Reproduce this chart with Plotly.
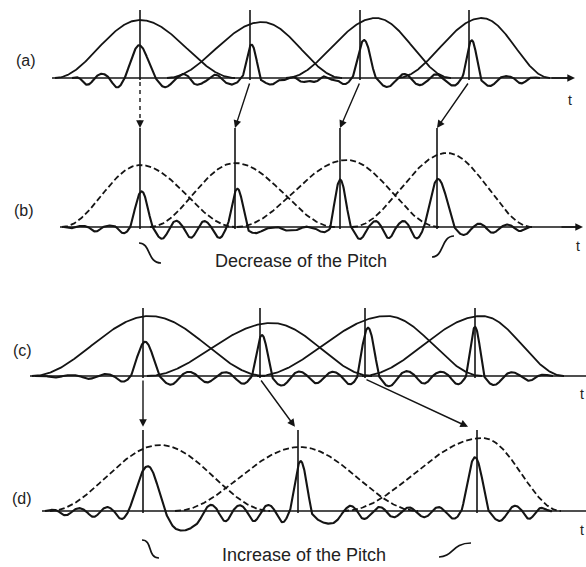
import numpy as np
import plotly.graph_objects as go

# ---------------- data (time axis in drawing units, amplitudes in drawing units) ----------------
# pitch marks of each panel
marks_a = [140, 250, 360, 469]
marks_b = [140, 235, 340, 437]
marks_c = [143, 260, 365, 475]
marks_d = [143, 298, 477]

# pulses: peak position, peak height, main-lobe half width
pulse_pos_a = [140, 252, 364, 472]
pulse_amp_a = [34, 38, 43, 40]
pulse_w_a = [15, 9, 11, 9]

pulse_pos_b = [141, 238, 340, 439]
pulse_amp_b = [37, 40, 50, 49]
pulse_w_b = [11, 10, 10, 15]

pulse_pos_c = [145, 262, 368, 475]
pulse_amp_c = [35, 40, 47, 48]
pulse_w_c = [14, 10, 11, 9]

pulse_pos_d = [147, 301, 475]
pulse_amp_d = [46, 49, 56]
pulse_w_d = [18, 11, 13]
trough_depth_d = [21, 14, 9]
trough_w_d = [38, 30, 20]

# analysis / synthesis windows: centre, height, left and right half-width
win_c_a = [140, 262, 376, 482]
win_h_a = [58, 56, 60, 60]
win_l_a = [85, 95, 90, 85]
win_r_a = [95, 80, 75, 68]

win_c_b = [140, 235, 347, 447]
win_h_b = [62, 64, 67, 74]
win_l_b = [78, 85, 110, 95]
win_r_b = [95, 100, 92, 85]

win_c_c = [150, 272, 387, 482]
win_h_c = [60, 53, 60, 60]
win_l_c = [118, 125, 130, 120]
win_r_c = [115, 100, 95, 82]

win_c_d = [160, 300, 483]
win_h_d = [66, 64, 73]
win_l_d = [110, 125, 140]
win_r_d = [110, 118, 78]

# extent of each signal
span_a = [72, 540]
span_b = [64, 532]
span_c = [35, 553]
span_d = [45, 552]

panel_labels = ["(a)", "(b)", "(c)", "(d)"]
axis_label = "t"
caption_b = "Decrease of the Pitch"
caption_d = "Increase of the Pitch"

# ---------------- layout constants ----------------
W_PX, H_PX = 586, 567
BASE = {"a": 78, "b": 227, "c": 376, "d": 511}
INK = "#141414"
FONT = "Liberation Sans, Arial, sans-serif"

fig = go.Figure()


def add_line(x, y, width=1.6, dash=None, color=INK):
    fig.add_trace(go.Scatter(x=x, y=y, mode="lines", hoverinfo="skip",
                             line=dict(color=color, width=width, dash=dash)))


def pulse_train(t, pos, amp, w, tdepth=None, twidth=None, r=5.5, h=15.0, D=90.0):
    s = np.zeros_like(t)
    n = len(pos)
    tdepth = tdepth if tdepth is not None else [1.6 * r] * n
    twidth = twidth if twidth is not None else [1.2 * h] * n
    for p, A, wk, td, tw in zip(pos, amp, w, tdepth, twidth):
        d = t - p
        ad = np.abs(d)
        u = ad / wk
        lobe = np.where(u < 1, A * np.sinc(u), 0.0)
        xl = ad - wk
        left = np.where((d < 0) & (xl > 0), -r * np.sin(np.pi * xl / h) * np.exp(-xl / D), 0.0)
        trough = np.where((d > 0) & (xl > 0) & (xl < tw), -td * np.sin(np.pi * np.clip(xl, 0, None) / tw), 0.0)
        xr = xl - tw
        right = np.where((d > 0) & (xr >= 0), r * np.sin(np.pi * xr / h) * np.exp(-np.clip(xr, 0, None) / D), 0.0)
        rip = left + right
        rip = np.where(rip < 0, 1.4 * rip, 0.8 * rip)
        s += lobe + trough + rip
    return s


def draw_signal(key, span, pos, amp, w, **kw):
    t = np.linspace(span[0], span[1], 1400)
    s = pulse_train(t, pos, amp, w, **kw)
    env = np.clip((t - span[0]) / 12, 0, 1) * np.clip((span[1] - t) / 12, 0, 1)
    add_line(t, -BASE[key] + s * env, width=2.1)


def draw_windows(key, cs, hs, ls, rs, dash=None):
    for c, h, wl, wr in zip(cs, hs, ls, rs):
        t = np.linspace(c - wl, c + wr, 300)
        ww = np.where(t < c, wl, wr)
        x = (t - c) / ww
        y = h * np.cos(np.pi * x / 2) ** 2
        add_line(t, -BASE[key] + y, width=1.8, dash=dash)


def draw_axis(key, x0, x1):
    add_line([x0, x1], [-BASE[key], -BASE[key]], width=1.3)


def draw_marks(key, marks, top, extra=2):
    for m in marks:
        add_line([m, m], [-top, -(BASE[key] + extra)], width=1.6)


# axes
draw_axis("a", 52, 572)
draw_axis("b", 60, 580)
draw_axis("c", 30, 586)
draw_axis("d", 42, 586)

# windows
draw_windows("a", win_c_a, win_h_a, win_l_a, win_r_a)
draw_windows("b", win_c_b, win_h_b, win_l_b, win_r_b, dash="6px,3px")
draw_windows("c", win_c_c, win_h_c, win_l_c, win_r_c)
draw_windows("d", win_c_d, win_h_d, win_l_d, win_r_d, dash="6px,3px")

# signals
draw_signal("a", span_a, pulse_pos_a, pulse_amp_a, pulse_w_a, r=6.0, h=15.0)
draw_signal("b", span_b, pulse_pos_b, pulse_amp_b, pulse_w_b, r=5.5, h=14.0)
draw_signal("c", span_c, pulse_pos_c, pulse_amp_c, pulse_w_c, r=5.0, h=17.0, D=50.0)
draw_signal("d", span_d, pulse_pos_d, pulse_amp_d, pulse_w_d,
            tdepth=trough_depth_d, twidth=trough_w_d, r=6.0, h=14.0)

# pitch-mark lines
draw_marks("a", marks_a, 10)
draw_marks("b", marks_b, 128)
draw_marks("c", marks_c, 308)
draw_marks("d", marks_d, 430)

annotations = []


def arrow(x0, y0, x1, y1):
    annotations.append(dict(x=x1, y=-y1, ax=x0, ay=-y0, xref="x", yref="y", axref="x", ayref="y",
                            text="", showarrow=True, arrowhead=2, arrowsize=1.1, arrowwidth=1.4,
                            arrowcolor=INK, standoff=0))


# arrows a -> b
for k, (ma, mb) in enumerate(zip(marks_a, marks_b)):
    y0, y1 = BASE["a"] + 4, 128
    if ma == mb:
        add_line([ma, mb], [-y0, -(y1 - 6)], width=1.4, dash="4px,4px")
        arrow(mb, y1 - 9, mb, y1)
    else:
        arrow(ma, y0, mb, y1)

# arrows c -> d
for mc, md in zip(marks_c[:len(marks_d)], marks_d):
    y0, yt = BASE["c"] + 3, 431
    f = 0.92
    arrow(mc, y0, mc + f * (md - mc), y0 + f * (yt - y0))

# axis arrow heads
arrow(550, BASE["a"], 575, BASE["a"])
arrow(560, BASE["b"], 583, BASE["b"])

# text
lab_pos = [(26, 60), (24, 210), (22, 350), (22, 498)]
for lab, (x, y) in zip(panel_labels, lab_pos):
    annotations.append(dict(x=x, y=-y, xref="x", yref="y", text=lab, showarrow=False,
                            font=dict(family=FONT, size=16, color="#222")))
for (x, y, anc) in [(570, 100, "center"), (578, 246, "center"), (586, 394, "right"), (586, 530, "right")]:
    annotations.append(dict(x=x, y=-y, xref="x", yref="y", text=axis_label, showarrow=False,
                            xanchor=anc, font=dict(family=FONT, size=14, color="#222")))
annotations.append(dict(x=301, y=-261, xref="x", yref="y", text=caption_b, showarrow=False,
                        font=dict(family=FONT, size=18, color="#222")))
annotations.append(dict(x=304, y=-555, xref="x", yref="y", text=caption_d, showarrow=False,
                        font=dict(family=FONT, size=18, color="#222")))

# small squiggles (decorations)
squiggles = [
    "M 139,-243 C 151,-243 147,-263 161,-263",
    "M 432,-257 C 444,-257 441,-236 454,-236",
    "M 142,-540 C 153,-540 147,-558 159,-558",
    "M 439,-557 C 453,-557 452,-543 471,-543",
]
shapes = [dict(type="path", path=p, xref="x", yref="y", line=dict(color=INK, width=1.7)) for p in squiggles]

fig.update_layout(
    width=W_PX, height=H_PX, margin=dict(l=0, r=0, t=0, b=0),
    paper_bgcolor="white", plot_bgcolor="white", showlegend=False,
    xaxis=dict(range=[0, W_PX], visible=False, fixedrange=True),
    yaxis=dict(range=[-H_PX, 0], visible=False, fixedrange=True),
    annotations=annotations, shapes=shapes,
)

fig.write_html("out.html", config={"displayModeBar": False},
               post_script="document.body.style.margin='0';document.body.style.overflow='hidden';")
